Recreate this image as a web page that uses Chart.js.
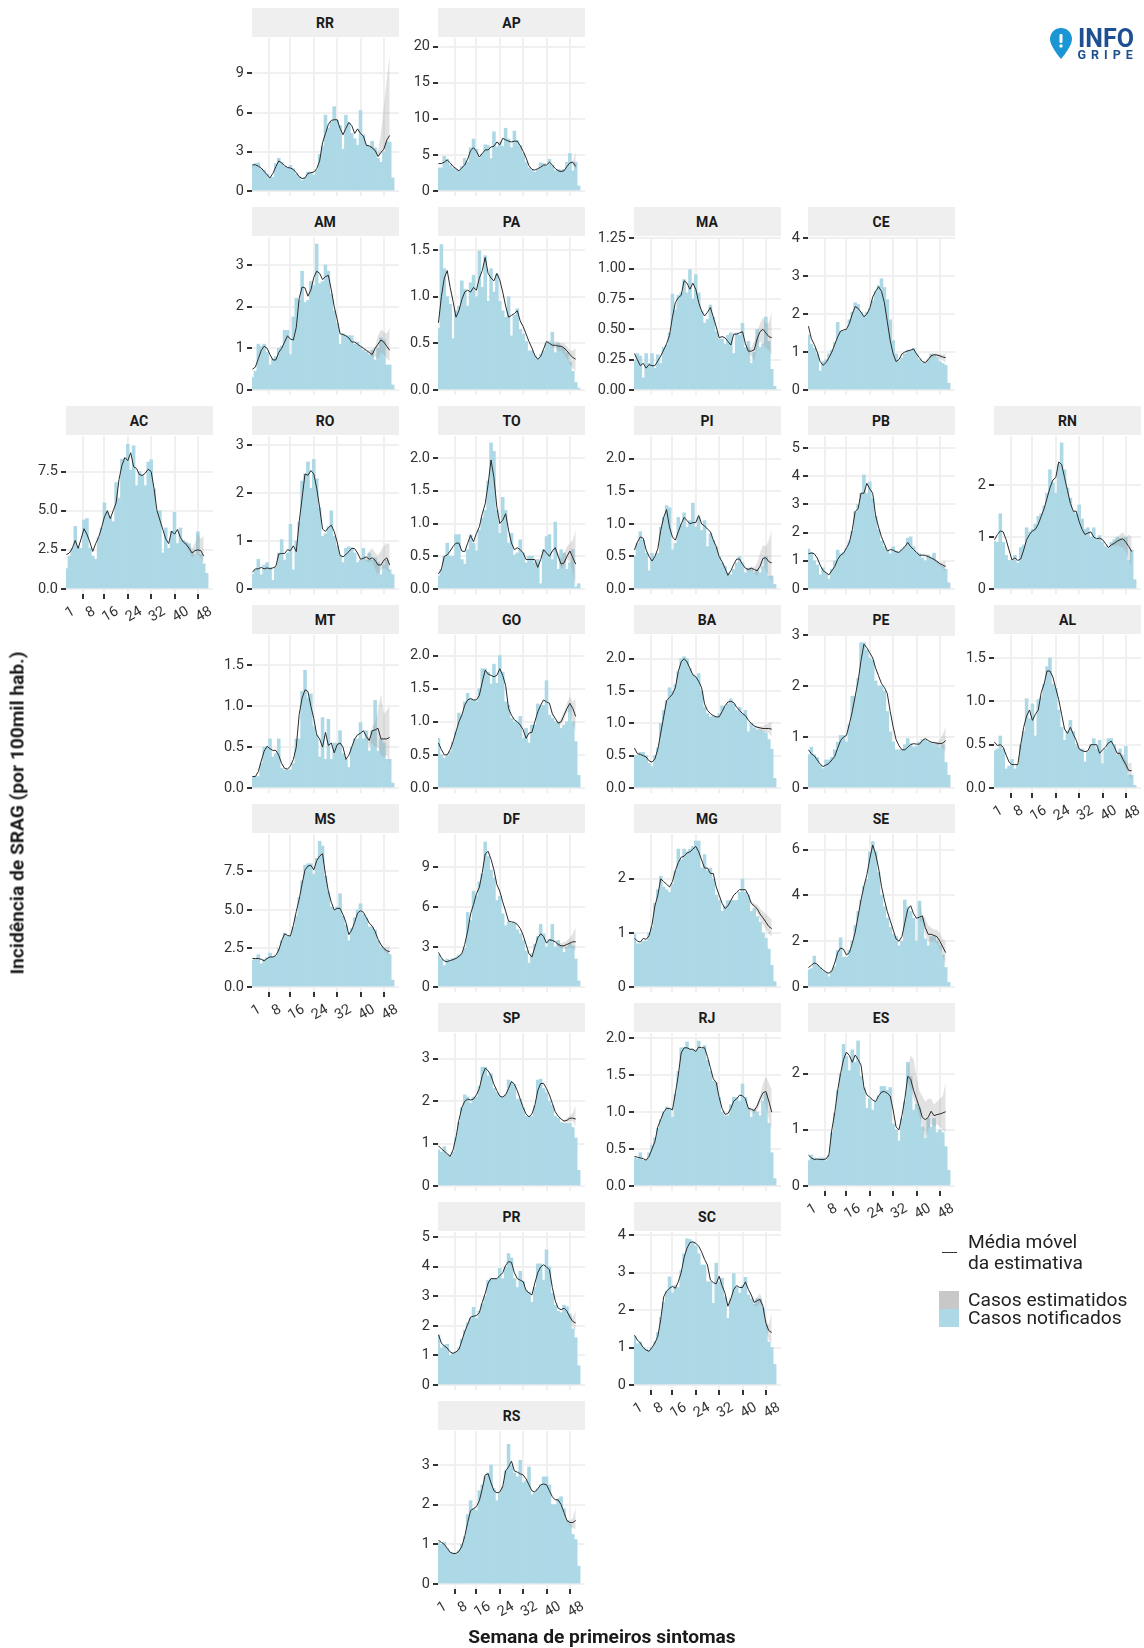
<!DOCTYPE html>
<html lang="pt-BR"><head><meta charset="utf-8"><title>Incidência de SRAG</title>
<script src="https://cdn.jsdelivr.net/npm/chart.js@4"></script>
<style>
html,body{margin:0;padding:0;background:#fff;overflow:hidden}
#page{position:relative;width:1144px;height:1648px;overflow:hidden;font-family:Roboto,sans-serif;color:#1a1a1a;filter:blur(.4px)}
.strip{position:absolute;background:#efefef;width:147px;height:29px;line-height:30px;text-align:center;font-weight:700;font-size:14px;color:#1a1a1a}
canvas{position:absolute}
.t{position:absolute;white-space:nowrap}
.lg{font-size:19.2px;color:#222;line-height:20px}
</style></head><body><div id="page"></div>
<script>
const weeks=[-1,0,1,2,3,4,5,6,7,8,9,10,11,12,13,14,15,16,17,18,19,20,21,22,23,24,25,26,27,28,29,30,31,32,33,34,35,36,37,38,39,40,41,42,43,44,45,46,47];
const xTickValues=[1,8,16,24,32,40,48];

const RR_bars=[2.0,2.1,2.15,1.7,1.6,1.3,1.0,1.05, 2.1,2.5,2.2,1.9,1.8,1.95,1.7,1.3, 1.1,.8,1.0,1.45,1.4,1.2,1.6,2.8, 3.4,5.8,4.8,5.3,6.45,5.4,5.0,3.2, 5.8,5.2,4.4,4.0,3.5,6.15,4.3,3.5, 3.4,3.8,3.3,2.5,2.2,3.0,3.7,3.75, 1.0];
const RR_line=[2.0,2.0,1.9,1.75,1.5,1.25,1.0,1.35, 1.85,2.3,2.15,1.95,1.8,1.75,1.65,1.4, 1.1,.95,1.0,1.35,1.4,1.45,1.7,2.3, 3.7,4.4,5.1,5.4,5.45,5.45,4.8,4.3, 4.8,5.25,5.0,4.4,4.75,4.4,4.2,3.5, 3.45,3.3,3.1,2.65,2.95,3.2,3.9,4.25];
const RR_hi=[4.25,3.6,3.5,3.4,3.2,3.0,4.5,6.5,8.5,10.5];
const RR_lo=[4.15,3.4,3.4,3.2,3.0,2.5,2.8,3.2,3.6,3.9];

const AP_bars=[3.2,3.2,4.8,4.4,3.6,3.2,3.0,2.8, 3.4,4.5,4.0,6.0,7.2,5.8,4.6,5.2, 6.4,6.3,4.5,8.2,6.1,6.8,6.2,8.7, 7.2,6.0,8.3,7.0,6.3,5.2,4.0,3.2, 2.9,2.6,3.0,3.9,3.8,3.4,4.4,3.6, 2.8,3.0,2.9,3.0,4.0,5.2,2.8,4.0, .7];
const AP_line=[3.8,3.8,4.0,4.3,3.9,3.4,3.1,2.8, 3.2,3.6,4.4,5.6,6.0,5.5,4.7,5.2, 5.7,5.7,6.1,6.2,6.8,6.4,7.3,7.1, 6.9,6.8,6.9,6.9,6.3,5.5,4.6,3.5, 3.0,2.9,3.1,3.3,3.6,3.6,4.0,3.6, 3.1,2.8,2.7,2.8,3.4,3.9,4.0,3.4];
const AP_hi=[4.0,3.6,3.1,2.8,2.7,2.9,3.5,4.0,4.2,5.4];
const AP_lo=[4.0,3.6,3.1,2.8,2.7,2.7,3.3,3.8,3.6,3.0];

const AM_bars=[.3,.45,1.1,1.05,1.1,.9,.6,.75, .8,1.0,1.05,1.43,1.43,.85,1.75,2.2, 2.15,2.85,2.1,2.15,2.6,2.5,3.5,2.55, 2.6,3.0,2.85,2.3,1.9,1.6,1.1,1.35, 1.3,1.3,1.3,1.1,1.15,1.05,.95,.9, .85,.95,.72,1.0,1.25,1.2,.6,.6, .12];
const AM_line=[.5,.55,.75,.95,1.05,1.0,.85,.72, .72,.9,1.0,1.15,1.3,1.22,1.2,1.5, 2.2,2.47,2.45,2.25,2.4,2.7,2.85,2.8, 2.65,2.72,2.75,2.4,2.0,1.7,1.35,1.33, 1.3,1.25,1.15,1.15,1.1,1.05,1.0,.95, .9,.85,1.0,1.1,1.2,1.15,1.05,.95];
const AM_hi=[1.02,.97,.95,.98,1.05,1.3,1.45,1.4,1.35,1.5];
const AM_lo=[.98,.92,.87,.8,.8,.75,.9,.85,.75,.7];

const PA_bars=[.66,1.56,1.3,1.0,.92,.55,.85,.9, 1.17,1.08,.9,1.15,1.23,1.0,1.49,1.1, 1.44,.95,1.3,1.05,1.24,.95,.85,.78, 1.0,.58,.8,.87,.65,.6,.52,.42, .42,.37,.33,.38,.42,.5,.52,.62, .4,.5,.47,.45,.4,.3,.2,.08, .02];
const PA_line=[.72,1.0,1.2,1.28,1.1,.95,.78,.85, .97,1.05,1.07,1.05,1.1,1.07,1.2,1.28, 1.42,1.25,1.2,1.17,1.25,1.18,1.05,.9, .78,.8,.82,.85,.74,.68,.6,.52, .45,.37,.33,.36,.44,.52,.5,.48, .48,.47,.47,.45,.42,.38,.35,.33];
const PA_hi=[.5,.5,.52,.52,.5,.5,.47,.42,.42,.45];
const PA_lo=[.5,.46,.45,.42,.42,.38,.33,.28,.23,.2];

const MA_bars=[.24,.3,.28,.1,.3,.22,.3,.18, .29,.22,.35,.37,.47,.79,.66,.78, .8,.91,.8,.99,.75,.95,.8,.65, .55,.58,.7,.6,.48,.42,.42,.38, .45,.47,.3,.47,.45,.55,.35,.4, .22,.31,.5,.35,.38,.6,.4,.17, .03];
const MA_line=[.3,.25,.2,.22,.18,.21,.2,.2, .24,.28,.33,.38,.45,.6,.72,.76, .78,.9,.88,.83,.88,.83,.72,.65, .61,.64,.68,.6,.52,.43,.44,.43, .4,.37,.46,.46,.47,.48,.38,.32, .32,.33,.42,.48,.5,.47,.44,.43];
const MA_hi=[.38,.35,.35,.4,.47,.55,.6,.55,.55,.65];
const MA_lo=[.38,.3,.28,.24,.35,.4,.38,.35,.33,.28];

const CE_bars=[1.45,1.2,1.1,.95,.5,.75,.8,.95, 1.05,1.25,1.78,1.55,1.55,1.6,1.85,2.05, 2.3,2.25,2.05,1.95,2.05,2.15,2.35,2.6, 2.75,2.93,2.7,2.38,1.85,1.3,.95,.75, .85,.95,1.05,1.05,1.1,.95,.8,.72, .7,.8,.95,.9,.85,.75,.7,.65, .18];
const CE_line=[1.68,1.35,1.2,1.0,.75,.65,.72,.85, 1.0,1.2,1.4,1.55,1.58,1.6,1.75,2.0, 2.2,2.15,2.05,1.93,2.0,2.15,2.45,2.6, 2.72,2.6,2.3,1.8,1.3,.95,.75,.8, .95,1.0,1.03,1.05,1.08,.95,.85,.75, .72,.8,.9,.93,.92,.9,.87,.85];
const CE_hi=[.85,.77,.75,.85,.95,.97,.97,.95,.93,.97];
const CE_lo=[.85,.73,.69,.76,.85,.88,.86,.82,.78,.72];

const AC_bars=[1.3,2.1,2.6,4.0,2.7,2.6,4.4,4.5, 2.6,2.1,1.9,3.3,3.9,5.5,4.9,4.6, 4.3,6.8,5.8,8.3,8.3,9.25,7.6,9.15, 6.6,7.5,7.3,6.6,8.1,8.25,6.4,5.0, 5.0,2.3,3.9,2.6,3.7,4.9,2.9,3.9, 3.1,3.0,2.9,2.4,2.2,3.65,2.2,1.6, 1.0];
const AC_line=[2.2,2.3,2.6,3.1,2.6,3.2,3.85,3.5, 3.0,2.4,2.9,3.3,3.9,4.6,5.0,4.5, 5.0,5.5,7.0,7.9,8.4,8.2,8.7,7.8, 7.7,7.3,7.25,7.4,7.65,7.5,6.4,5.0, 4.4,3.8,3.2,2.9,3.7,3.5,3.8,3.3, 3.0,2.85,2.6,2.3,2.45,2.5,2.45,2.1];
const AC_hi=[3.85,3.3,3.1,3.0,2.8,2.6,2.9,3.6,3.2,3.4];
const AC_lo=[3.75,3.3,3.0,2.8,2.4,2.0,2.2,2.2,2.0,1.6];

const RO_bars=[.3,.4,.62,.3,.5,.55,.45,.18, .45,.75,1.03,.6,.75,1.35,.4,1.0, 1.4,2.25,2.4,2.65,2.1,2.7,2.3,1.7, 1.1,1.15,1.3,1.63,1.1,.9,.7,.55, .85,.88,.85,.75,.55,.6,.85,.6, .75,.6,.65,.55,.3,.5,.6,.4, .3];
const RO_line=[.35,.42,.42,.45,.42,.44,.42,.44, .47,.73,.74,.74,.82,.8,.9,.78, 1.4,1.9,2.4,2.37,2.47,2.4,2.1,1.7, 1.25,1.2,1.28,1.33,1.2,.98,.7,.67, .72,.78,.85,.84,.75,.62,.64,.67, .62,.65,.6,.5,.5,.6,.65,.5];
const RO_hi=[.7,.65,.8,.85,.75,.7,.8,.9,.95,.95];
const RO_lo=[.62,.58,.55,.6,.4,.3,.4,.45,.4,.35];

const TO_bars=[.2,.3,.5,.7,.5,.5,.83,.83, .45,.38,.6,.83,.7,.58,.9,1.08, 1.2,1.65,2.23,2.1,1.2,.85,1.4,1.2, .7,.85,.52,.55,.75,.55,.4,.5, .5,.4,.45,.08,.6,.8,.83,.45, 1.02,.3,.6,.55,.3,.4,.6,.03, .08];
const TO_line=[.23,.3,.5,.52,.58,.65,.7,.7, .58,.57,.7,.82,.72,.85,.95,1.15, 1.3,1.6,1.97,1.7,1.25,1.0,1.05,1.15, .9,.7,.6,.63,.6,.55,.45,.45, .45,.45,.33,.45,.6,.55,.5,.58, .63,.5,.38,.4,.5,.58,.48,.38];
const TO_hi=[.52,.6,.65,.55,.45,.55,.65,.7,.75,.9];
const TO_lo=[.48,.55,.6,.45,.3,.35,.45,.42,.25,.05];

const PI_bars=[.5,.7,.88,.75,.55,.28,.55,.5, .55,.95,1.1,1.28,1.25,.6,.7,1.1, 1.0,1.17,.95,1.05,1.32,.95,1.1,.9, 1.05,.65,.85,.75,.65,.5,.4,.35, .25,.22,.3,.4,.5,.4,.25,.32, .3,.25,.3,.25,.35,.5,.2,.2, .07];
const PI_line=[.6,.72,.8,.78,.6,.5,.43,.5, .62,.9,1.1,1.22,.95,.8,.75,.88, 1.0,1.1,1.05,1.0,1.02,1.02,1.13,1.0, .97,.92,.88,.75,.65,.5,.42,.32, .21,.28,.38,.46,.46,.38,.32,.3, .32,.3,.28,.35,.47,.48,.42,.4];
const PI_hi=[.32,.32,.35,.33,.4,.55,.68,.65,.75,.9];
const PI_lo=[.28,.27,.28,.24,.2,.3,.38,.28,.2,.12];

const PB_bars=[1.42,1.3,1.0,.85,.5,.75,.55,.35, .7,1.0,1.38,1.25,1.3,1.45,1.7,2.05, 2.75,3.0,3.4,4.05,3.4,3.8,3.2,2.6, 2.1,1.7,1.5,1.35,1.25,1.5,1.35,1.3, 1.4,1.5,1.8,1.85,1.5,1.3,1.25,1.1, 1.0,1.2,1.1,1.27,.95,.85,.8,.7, .22];
const PB_line=[1.25,1.28,1.25,1.1,.85,.65,.58,.5, .65,.8,1.05,1.2,1.27,1.45,1.65,2.1, 2.75,2.85,3.4,3.4,3.75,3.55,3.4,2.6, 2.2,1.85,1.6,1.35,1.4,1.38,1.32,1.3, 1.4,1.5,1.65,1.5,1.4,1.3,1.2,1.2, 1.2,1.15,1.1,1.05,.98,.9,.85,.8];
const PB_hi=[1.22,1.22,1.18,1.18,1.18,1.1,1.0,.95,.95,1.0];
const PB_lo=[1.18,1.18,1.12,1.12,1.12,1.0,.9,.82,.75,.6];

const RN_bars=[.92,.9,1.45,.9,.65,.55,.55,.65, .5,.8,.85,1.18,1.1,1.15,1.25,1.4, 1.45,1.6,1.85,2.3,2.05,1.85,2.4,2.82, 2.3,1.95,1.75,1.5,1.45,1.62,1.35,1.15, 1.18,1.0,1.18,.95,1.03,.9,.82,.78, .9,.95,1.0,.98,.95,1.0,.55,.75, .18];
const RN_line=[.95,1.05,1.12,1.1,.95,.75,.56,.6, .55,.58,.75,.95,1.05,1.12,1.15,1.25, 1.4,1.55,1.75,1.95,2.1,2.15,2.45,2.4, 2.15,1.9,1.65,1.5,1.5,1.3,1.15,1.05, 1.08,1.1,1.0,.97,.98,.95,.88,.8, .85,.88,.92,.95,.97,.9,.82,.72];
const RN_hi=[.9,.8,.87,.92,1.0,1.05,1.1,1.0,1.05,1.0];
const RN_lo=[.86,.78,.82,.83,.84,.82,.8,.72,.55,.45];

const MT_bars=[.14,.14,.14,.3,.5,.5,.6,.38, .42,.6,.24,.22,.22,.22,.3,.6, .6,1.18,1.44,1.1,1.15,.75,.65,.38, .86,.35,.84,.35,.55,.55,.7,.42, .35,.25,.5,.6,.6,.8,.6,.7, .45,.7,1.07,.45,.6,.55,.35,.35, .06];
const MT_line=[.14,.14,.2,.33,.45,.51,.48,.46, .46,.4,.3,.24,.23,.27,.35,.5, .9,1.1,1.2,1.18,1.0,.85,.65,.6, .5,.68,.52,.55,.43,.53,.55,.5, .35,.4,.5,.6,.65,.67,.7,.63, .58,.7,.71,.73,.6,.6,.6,.62];
const MT_hi=[.72,.65,.62,.75,.8,.95,1.15,.9,.95,1.0];
const MT_lo=[.68,.6,.5,.55,.5,.5,.4,.38,.4,.3];

const GO_bars=[.75,.5,.45,.48,.55,.7,.85,1.13, 1.1,1.3,1.43,1.35,1.33,1.3,1.5,1.8, 1.8,1.75,1.57,1.87,1.58,2.0,1.75,1.3, 1.25,1.05,1.0,1.0,1.08,.75,.9,.68, .95,.95,1.27,1.25,1.25,1.62,1.1,1.05, 1.0,.98,.9,.95,1.0,1.25,1.0,.7, .19];
const GO_line=[.68,.58,.5,.5,.58,.7,.85,1.0, 1.1,1.25,1.33,1.35,1.33,1.33,1.4,1.6, 1.78,1.72,1.7,1.68,1.7,1.8,1.7,1.55, 1.2,1.1,1.03,1.0,.95,.88,.75,.83, .84,1.0,1.15,1.25,1.33,1.3,1.28,1.12, 1.05,.98,1.0,1.1,1.2,1.28,1.2,1.08];
const GO_hi=[1.3,1.14,1.06,1.0,1.05,1.15,1.28,1.38,1.3,1.35];
const GO_lo=[1.26,1.1,1.03,.96,.95,1.03,1.15,1.15,.98,.85];

const BA_bars=[.5,.5,.55,.55,.5,.38,.33,.5, .62,1.0,1.2,1.35,1.55,1.5,1.6,1.8, 2.0,2.03,2.0,1.85,1.75,1.72,1.77,1.5, 1.25,1.15,1.1,1.12,1.1,1.15,1.27,1.25, 1.3,1.38,1.3,1.2,1.25,1.15,1.2,.87, 1.0,.93,.9,.9,.88,.85,.75,.6, .15];
const BA_line=[.62,.53,.52,.5,.48,.42,.4,.45, .6,.85,1.1,1.35,1.4,1.45,1.55,1.8, 1.95,2.0,1.95,1.85,1.75,1.72,1.65,1.55, 1.3,1.2,1.15,1.12,1.1,1.1,1.18,1.27, 1.33,1.34,1.32,1.25,1.2,1.15,1.12,1.05, 1.0,.96,.94,.93,.92,.92,.92,.91];
const BA_hi=[1.12,1.05,1.01,.97,.96,.95,.96,.98,1.0,1.03];
const BA_lo=[1.12,1.05,.99,.94,.92,.89,.88,.87,.85,.78];

const PE_bars=[.65,.8,.65,.6,.45,.38,.55,.55, .6,.75,.9,1.03,1.03,.9,1.25,1.8, 1.8,2.15,2.85,2.85,2.7,2.55,2.5,2.1, 2.0,2.0,1.9,1.5,1.1,.9,.75,.75, .75,.85,.97,.87,.8,.82,.9,.95, .95,.9,.88,.85,.88,.8,.85,.5, .25];
const PE_line=[.75,.67,.63,.55,.47,.42,.45,.48, .55,.62,.78,.93,1.0,1.03,1.25,1.5, 1.8,2.1,2.5,2.82,2.75,2.65,2.55,2.35, 2.2,2.05,1.97,1.85,1.5,1.2,.95,.83, .75,.75,.8,.85,.87,.86,.86,.93, .97,.93,.9,.89,.88,.87,.88,.93];
const PE_hi=[.86,.93,.97,.93,.9,.89,.89,.95,1.05,1.2];
const PE_lo=[.86,.93,.97,.93,.89,.86,.86,.82,.78,.7];

const AL_bars=[.43,.45,.6,.45,.22,.25,.33,.22, .27,.5,.65,1.03,.8,.97,.6,1.02, 1.05,1.2,1.4,1.5,1.2,1.15,.9,.7, .55,.65,.78,.65,.5,.45,.45,.3, .42,.5,.57,.45,.55,.28,.45,.57, .57,.5,.38,.45,.38,.48,.15,.15, .03];
const AL_line=[.53,.49,.5,.47,.38,.3,.27,.27, .27,.5,.7,.83,.9,.78,.85,.9, 1.1,1.2,1.35,1.35,1.28,1.15,1.02,.85, .68,.63,.7,.62,.55,.45,.43,.42, .43,.5,.5,.5,.4,.44,.47,.52, .54,.48,.4,.4,.33,.27,.2,.2];
const AL_hi=[.47,.52,.54,.48,.42,.42,.36,.32,.28,.3];
const AL_lo=[.47,.52,.54,.48,.39,.37,.29,.22,.14,.1];

const MS_bars=[1.75,1.8,2.1,1.5,1.8,1.9,2.2,1.95, 2.0,2.5,3.0,3.5,3.3,3.25,3.9,4.6, 5.8,6.9,7.9,8.0,8.0,7.3,8.35,9.45, 9.15,7.2,6.2,5.2,5.0,5.2,6.05,4.6, 4.0,3.0,3.8,4.5,5.0,5.4,4.7,4.5, 3.9,3.9,3.7,3.0,2.6,2.5,2.3,2.1, .45];
const MS_line=[1.85,1.85,1.85,1.8,1.7,1.85,1.95,1.95, 2.05,2.4,3.0,3.45,3.35,3.3,4.0,4.9, 5.7,6.7,7.6,7.85,7.9,7.6,8.2,8.5, 8.65,7.3,6.2,5.5,5.0,5.1,5.1,4.7, 4.2,3.4,3.7,4.2,4.8,4.95,4.85,4.5, 4.15,3.95,3.6,3.1,2.75,2.5,2.35,2.3];
const MS_hi=[4.85,4.5,4.15,3.95,3.6,3.1,2.8,2.6,2.6,2.7];
const MS_lo=[4.85,4.5,4.15,3.95,3.6,3.1,2.7,2.35,2.15,2.0];

const DF_bars=[2.4,2.1,1.6,2.1,2.0,2.15,2.2,2.4, 2.5,2.9,5.6,5.0,7.2,6.8,7.9,8.5, 10.9,9.8,8.8,8.2,6.5,6.8,5.5,4.6, 4.9,4.8,4.8,4.3,4.0,3.5,2.7,1.8, 2.5,3.2,3.8,4.7,4.0,3.0,3.6,4.7, 3.0,3.5,3.1,2.6,3.0,3.3,3.1,2.1, .45];
const DF_line=[2.6,2.2,1.95,1.9,2.0,2.05,2.15,2.3, 2.5,3.2,4.2,5.5,6.2,7.0,7.5,8.6, 10.0,10.2,9.6,8.8,7.7,7.2,6.4,5.7, 4.95,4.9,4.85,4.7,4.4,3.9,3.2,2.5, 2.25,3.0,3.7,4.0,3.8,3.3,3.55,3.5, 3.4,3.2,3.1,3.1,3.2,3.3,3.4,3.4];
const DF_hi=[3.6,3.55,3.5,3.35,3.3,3.35,3.5,3.7,4.0,4.5];
const DF_lo=[3.5,3.45,3.3,3.05,2.9,2.85,2.9,2.95,2.9,2.7];

const MG_bars=[.98,.8,.8,.85,.85,1.0,1.1,1.55, 1.8,2.05,1.85,1.8,1.75,1.9,2.15,2.55, 2.35,2.55,2.5,2.55,2.6,2.7,2.7,2.2, 2.45,2.15,2.2,2.0,1.7,1.6,1.4,1.5, 1.6,1.6,1.6,1.6,1.75,2.0,1.75,1.7, 1.4,1.45,1.3,1.2,1.0,.9,.7,.4, .1];
const MG_line=[.9,.85,.83,.9,.88,.95,1.15,1.5, 1.7,2.0,1.95,1.9,1.85,1.95,2.15,2.3, 2.4,2.42,2.48,2.5,2.55,2.6,2.5,2.35, 2.2,2.2,2.1,2.1,1.85,1.7,1.55,1.45, 1.5,1.6,1.7,1.75,1.8,1.8,1.8,1.7, 1.55,1.5,1.45,1.35,1.28,1.2,1.12,1.08];
const MG_hi=[1.8,1.7,1.58,1.55,1.52,1.45,1.4,1.35,1.3,1.25];
const MG_lo=[1.8,1.7,1.52,1.45,1.38,1.25,1.15,1.07,.98,.92];

const SE_bars=[.75,.8,1.35,.95,.85,.7,.6,.45, .7,.9,1.6,2.15,1.3,1.3,1.6,2.0, 2.7,3.3,3.8,4.4,4.7,5.9,6.35,5.9, 5.0,4.0,3.5,3.0,2.6,2.3,2.2,1.8, 2.0,3.8,3.5,3.3,3.0,2.0,3.75,3.0, 2.1,1.8,2.2,2.2,2.0,1.8,1.4,.85, .2];
const SE_line=[.85,.95,1.05,1.0,.85,.75,.65,.6, .7,1.05,1.5,1.7,1.65,1.4,1.5,1.9, 2.4,3.1,3.8,4.4,4.9,5.6,6.2,5.8, 5.2,4.4,3.8,3.3,2.9,2.5,2.1,2.0, 2.2,2.8,3.4,3.55,3.2,3.0,3.05,3.1, 2.6,2.3,2.3,2.25,2.2,2.0,1.75,1.5];
const SE_hi=[3.75,3.2,3.0,2.7,2.6,2.5,2.5,2.35,2.1,2.0];
const SE_lo=[2.8,2.9,2.3,2.0,2.0,2.0,1.9,1.65,1.35,.95];

const SP_bars=[.85,.8,.93,.75,.7,.8,1.15,1.5, 1.85,2.15,2.1,1.95,2.1,2.1,2.35,2.8, 2.8,2.6,2.65,2.3,2.2,2.1,2.1,2.15, 2.5,2.45,2.4,2.05,2.05,1.85,1.65,1.65, 1.65,1.9,2.5,2.52,2.3,2.2,2.0,1.9, 1.65,1.6,1.5,1.48,1.48,1.48,1.38,1.13, .37];
const SP_line=[.95,.88,.82,.76,.7,.85,1.15,1.55, 1.85,2.0,2.05,2.03,2.05,2.15,2.3,2.6, 2.78,2.72,2.6,2.4,2.25,2.12,2.1,2.15, 2.3,2.47,2.4,2.25,2.05,1.85,1.7,1.63, 1.7,1.9,2.25,2.42,2.42,2.3,2.15,1.95, 1.75,1.65,1.58,1.53,1.55,1.6,1.6,1.58];
const SP_hi=[2.15,1.95,1.75,1.65,1.58,1.55,1.6,1.66,1.72,1.9];
const SP_lo=[2.15,1.95,1.75,1.65,1.58,1.51,1.5,1.53,1.52,1.4];

const RJ_bars=[.38,.37,.45,.35,.35,.45,.55,.65, .78,.9,1.0,1.07,1.05,.93,1.25,1.55, 1.87,1.87,1.95,1.85,1.85,1.83,1.96,1.85, 1.9,1.7,1.55,1.42,1.4,1.2,1.0,.95, .95,1.1,1.2,1.2,1.15,1.38,1.2,1.05, .93,1.03,1.0,.95,1.15,1.25,.85,.45, .1];
const RJ_line=[.4,.39,.38,.37,.35,.4,.5,.6, .8,.9,1.0,1.05,1.05,1.03,1.25,1.5, 1.8,1.87,1.87,1.85,1.85,1.82,1.88,1.87, 1.87,1.75,1.6,1.45,1.4,1.2,1.05,.97, .98,1.05,1.15,1.18,1.23,1.22,1.18,1.05, 1.04,1.02,1.08,1.18,1.26,1.28,1.15,1.0];
const RJ_hi=[1.18,1.07,1.05,1.05,1.12,1.22,1.38,1.48,1.4,1.3];
const RJ_lo=[1.18,1.03,1.01,.98,1.02,1.12,1.18,1.1,.9,.75];

const ES_bars=[.45,.55,.5,.48,.5,.5,.45,.55, .95,1.3,1.7,2.0,2.52,2.3,2.05,2.42, 2.2,2.58,1.95,1.75,1.38,1.55,1.35,1.5, 1.6,1.77,1.77,1.7,1.75,1.1,1.0,.8, 1.2,1.5,2.2,1.95,1.35,1.45,1.4,1.05, .85,1.2,1.05,1.2,.95,1.0,.95,.7, .28];
const ES_line=[.55,.5,.47,.48,.47,.47,.48,.55, 1.0,1.3,1.7,2.0,2.25,2.38,2.32,2.2, 2.33,2.25,2.15,1.75,1.62,1.58,1.53,1.5, 1.6,1.67,1.68,1.65,1.6,1.35,1.05,1.0, 1.25,1.55,1.95,1.9,1.7,1.55,1.4,1.22, 1.18,1.22,1.33,1.25,1.27,1.28,1.3,1.32];
const ES_hi=[2.1,2.32,2.25,1.95,1.7,1.6,1.5,1.55,1.55,1.45,1.5,1.55,1.6,1.85];
const ES_lo=[1.85,1.75,1.55,1.4,1.25,1.05,.85,1.0,1.1,1.05,1.1,1.05,1.0,.95];

const PR_bars=[1.7,1.25,1.35,1.38,1.0,1.08,1.12,1.25, 1.55,1.85,2.1,2.25,2.63,2.25,2.5,2.75, 3.0,3.55,3.6,3.6,3.6,3.95,3.6,4.0, 4.45,4.3,3.6,3.3,3.85,3.5,3.2,3.15, 2.8,3.3,4.1,4.1,3.55,4.58,4.0,3.1, 2.7,2.5,2.45,2.7,2.65,2.4,1.9,1.6, .65];
const PR_line=[1.7,1.42,1.32,1.25,1.12,1.07,1.12,1.2, 1.5,1.8,2.05,2.3,2.33,2.35,2.45,2.8, 3.1,3.45,3.6,3.6,3.6,3.7,3.8,4.05, 4.18,4.15,3.8,3.6,3.55,3.5,3.2,3.12, 3.05,3.45,3.8,4.0,4.07,4.0,3.9,3.3, 2.85,2.6,2.55,2.6,2.5,2.3,2.15,2.1];
const PR_hi=[3.9,3.3,2.85,2.6,2.55,2.6,2.5,2.35,2.3,2.5];
const PR_lo=[3.9,3.3,2.85,2.6,2.55,2.6,2.5,2.25,2.0,1.85];

const SC_bars=[1.3,1.1,1.15,1.0,.95,.9,1.0,1.15, 1.4,1.8,2.2,2.5,2.88,2.45,2.65,2.6, 3.05,3.5,3.9,3.88,3.8,3.7,3.5,3.2, 3.2,2.75,2.75,2.18,3.25,2.75,2.85,2.35, 1.78,2.3,2.97,2.6,2.45,2.65,2.87,2.4, 2.3,2.15,2.3,2.3,2.05,1.6,1.15,1.0, .55];
const SC_line=[1.33,1.2,1.12,1.0,.93,.9,1.0,1.12, 1.3,1.75,2.35,2.5,2.58,2.63,2.58,2.75, 3.0,3.4,3.65,3.8,3.82,3.78,3.7,3.55, 3.35,3.2,2.8,2.73,2.7,2.9,2.65,2.45, 2.1,2.3,2.55,2.65,2.6,2.6,2.75,2.55, 2.4,2.2,2.25,2.28,2.1,1.65,1.45,1.4];
const SC_hi=[2.75,2.55,2.42,2.25,2.35,2.45,2.2,1.75,1.6,1.95];
const SC_lo=[2.75,2.55,2.38,2.1,2.1,2.2,2.0,1.5,1.2,1.15];

const RS_bars=[1.05,1.0,1.05,.9,.8,.78,.75,.85, 1.0,1.2,1.75,2.1,1.9,1.85,2.35,2.5, 2.7,2.8,3.0,2.4,2.1,2.3,2.45,2.85, 3.52,3.0,2.8,2.7,3.12,2.55,2.6,2.95, 2.25,2.3,2.4,2.5,2.7,2.7,2.5,2.0, 2.0,2.15,2.2,1.9,1.6,1.5,1.25,1.12, .45];
const RS_line=[1.1,1.05,1.0,.9,.8,.77,.77,.82, .95,1.2,1.55,1.85,1.9,1.95,2.1,2.4, 2.75,2.78,2.55,2.35,2.3,2.32,2.45,2.85, 2.95,3.1,2.85,2.82,2.78,2.75,2.65,2.5, 2.35,2.32,2.4,2.5,2.52,2.5,2.35,2.2, 2.12,2.12,2.0,1.8,1.6,1.55,1.55,1.6];
const RS_hi=[2.35,2.2,2.12,2.12,2.0,1.8,1.62,1.6,1.65,1.95];
const RS_lo=[2.35,2.2,2.12,2.12,2.0,1.8,1.55,1.45,1.4,1.4];

const seriesByState={
 RR:[RR_bars,RR_line,RR_hi,RR_lo],AP:[AP_bars,AP_line,AP_hi,AP_lo],AM:[AM_bars,AM_line,AM_hi,AM_lo],PA:[PA_bars,PA_line,PA_hi,PA_lo],
 MA:[MA_bars,MA_line,MA_hi,MA_lo],CE:[CE_bars,CE_line,CE_hi,CE_lo],AC:[AC_bars,AC_line,AC_hi,AC_lo],RO:[RO_bars,RO_line,RO_hi,RO_lo],
 TO:[TO_bars,TO_line,TO_hi,TO_lo],PI:[PI_bars,PI_line,PI_hi,PI_lo],PB:[PB_bars,PB_line,PB_hi,PB_lo],RN:[RN_bars,RN_line,RN_hi,RN_lo],
 MT:[MT_bars,MT_line,MT_hi,MT_lo],GO:[GO_bars,GO_line,GO_hi,GO_lo],BA:[BA_bars,BA_line,BA_hi,BA_lo],PE:[PE_bars,PE_line,PE_hi,PE_lo],
 AL:[AL_bars,AL_line,AL_hi,AL_lo],MS:[MS_bars,MS_line,MS_hi,MS_lo],DF:[DF_bars,DF_line,DF_hi,DF_lo],MG:[MG_bars,MG_line,MG_hi,MG_lo],
 SE:[SE_bars,SE_line,SE_hi,SE_lo],SP:[SP_bars,SP_line,SP_hi,SP_lo],RJ:[RJ_bars,RJ_line,RJ_hi,RJ_lo],ES:[ES_bars,ES_line,ES_hi,ES_lo],
 PR:[PR_bars,PR_line,PR_hi,PR_lo],SC:[SC_bars,SC_line,SC_hi,SC_lo],RS:[RS_bars,RS_line,RS_hi,RS_lo]};

// state, column, row, y-axis top, y ticks, decimals, shows week labels
const panels=[
 ['RR',1,0,11.7,[0,3,6,9],0,0],['AP',2,0,21.2,[0,5,10,15,20],0,0],
 ['AM',1,1,3.67,[0,1,2,3],0,0],['PA',2,1,1.64,[0,.5,1,1.5],1,0],['MA',3,1,1.26,[0,.25,.5,.75,1,1.25],2,0],['CE',4,1,4.03,[0,1,2,3,4],0,0],
 ['AC',0,2,9.77,[0,2.5,5,7.5],1,1],['RO',1,2,3.19,[0,1,2,3],0,0],['TO',2,2,2.336,[0,.5,1,1.5,2],1,0],['PI',3,2,2.35,[0,.5,1,1.5,2],1,0],['PB',4,2,5.43,[0,1,2,3,4,5],0,0],['RN',5,2,2.95,[0,1,2],0,0],
 ['MT',1,3,1.87,[0,.5,1,1.5],1,0],['GO',2,3,2.31,[0,.5,1,1.5,2],1,0],['BA',3,3,2.366,[0,.5,1,1.5,2],1,0],['PE',4,3,3.0,[0,1,2,3],0,0],['AL',5,3,1.765,[0,.5,1,1.5],1,1],
 ['MS',1,4,9.93,[0,2.5,5,7.5],1,1],['DF',2,4,11.5,[0,3,6,9],0,0],['MG',3,4,2.83,[0,1,2],0,0],['SE',4,4,6.68,[0,2,4,6],0,0],
 ['SP',2,5,3.61,[0,1,2,3],0,0],['RJ',3,5,2.07,[0,.5,1,1.5,2],1,0],['ES',4,5,2.72,[0,1,2],0,1],
 ['PR',2,6,5.18,[0,1,2,3,4,5],0,0],['SC',3,6,4.08,[0,1,2,3,4],0,1],
 ['RS',2,7,3.857,[0,1,2,3],0,1]];
const colLeft=[65.5,251.5,438,633.5,807.5,994];
const rowTop=[8,207,406,605,804,1003,1202,1401];
const page=document.getElementById('page');
const PW=147,STRIP=29,PH=158,ZERO=153,LEFT=50,BOTTOM=50,RIGHT=14,TOPPAD=12,DROP=1;
const pts=(xs,ys)=>ys.map((y,i)=>({x:xs[i],y}));

function addText(txt,css,cls){const d=document.createElement('div');d.className='t '+(cls||'');d.textContent=txt;d.style.cssText=css;page.appendChild(d);return d;}

panels.forEach(([st,col,row,yTop,yTicks,dec,showX])=>{
 const left=colLeft[col],top=rowTop[row];
 const s=document.createElement('div');s.className='strip';s.style.left=left+'px';s.style.top=top+'px';s.textContent=st;page.appendChild(s);
 const c=document.createElement('canvas');c.width=LEFT+PW+RIGHT;c.height=TOPPAD+PH+BOTTOM;
 c.style.left=(left-LEFT)+'px';c.style.top=(top+STRIP+DROP-TOPPAD)+'px';c.style.width=c.width+'px';c.style.height=c.height+'px';page.appendChild(c);
 const [bars,line,hi,lo]=seriesByState[st];
 const rw=weeks.slice(48-hi.length,48);
 const perPx=yTop/ZERO;
 new Chart(c,{type:'bar',data:{datasets:[
   {type:'bar',data:pts(weeks,bars),backgroundColor:'#add8e6',borderWidth:0,barPercentage:1,categoryPercentage:1,order:3},
   {type:'line',data:pts(rw,hi),borderWidth:0,pointRadius:0,fill:'+1',backgroundColor:'rgba(150,150,150,.28)',order:2},
   {type:'line',data:pts(rw,lo),borderWidth:0,pointRadius:0,fill:false,order:2},
   {type:'line',data:pts(weeks,line),borderColor:'#2b2b2b',borderWidth:1,pointRadius:0,tension:0,fill:false,order:1}
 ]},options:{responsive:false,animation:false,events:[],
  layout:{padding:{left:0,top:TOPPAD,right:RIGHT,bottom:0}},
  plugins:{legend:{display:false},tooltip:{enabled:false},title:{display:false}},
  scales:{
   x:{type:'linear',min:-1.16,max:49.18,offset:false,
    afterBuildTicks:a=>{a.ticks=xTickValues.map(v=>({value:v}));},
    afterFit:a=>{a.height=BOTTOM;a.paddingLeft=a.paddingRight=a.paddingTop=a.paddingBottom=0;},
    grid:{color:'#f0f0f0',lineWidth:2,drawTicks:!!showX,tickLength:5,tickColor:'#333',tickWidth:2},
    border:{display:false},
    ticks:{display:!!showX,autoSkip:false,minRotation:30,maxRotation:30,padding:4,labelOffset:1.5,color:'#333',font:{family:'Roboto',size:14.5},callback:v=>String(v)}},
   y:{type:'linear',min:-5*perPx,max:yTop,
    afterBuildTicks:a=>{a.ticks=yTicks.map(v=>({value:v}));},
    afterFit:a=>{a.width=LEFT;a.paddingLeft=a.paddingRight=a.paddingTop=a.paddingBottom=0;},
    grid:{color:'#f0f0f0',lineWidth:2,tickLength:5,tickColor:'#333',tickWidth:2},
    border:{display:false},
    ticks:{autoSkip:false,padding:3,color:'#333',font:{family:'Roboto',size:14.5},callback:v=>Number(v).toFixed(dec)}}
  }}});
});

addText('Semana de primeiros sintomas','left:602px;top:1636px;transform:translate(-50%,-50%);font-weight:700;font-size:19.2px;color:#1a1a1a');
addText('Incidência de SRAG (por 100mil hab.)','left:17px;top:813px;transform:translate(-50%,-50%) rotate(-90deg);font-weight:700;font-size:19.2px;color:#1a1a1a');

function box(css){const d=document.createElement('div');d.style.cssText='position:absolute;'+css;page.appendChild(d);}
box('left:942px;top:1251.5px;width:15px;height:1px;background:#333');
box('left:939px;top:1291px;width:20px;height:18px;background:#c8c8c8');
box('left:939px;top:1309px;width:20px;height:18px;background:#add8e6');
addText('Média móvel','left:968px;top:1232px','lg');
addText('da estimativa','left:968px;top:1253px','lg');
addText('Casos estimatidos','left:968px;top:1289.5px','lg');
addText('Casos notificados','left:968px;top:1307.5px','lg');

const logo=document.createElement('div');logo.style.cssText='position:absolute;left:1050px;top:28px;width:22px;height:31px';
logo.innerHTML='<svg width="22" height="31" viewBox="0 0 22 31"><path d="M11 0C4.9 0 0 4.9 0 11c0 7.5 11 20 11 20s11-12.5 11-20C22 4.9 17.1 0 11 0z" fill="#1a96d4"/><rect x="9.5" y="6" width="3" height="9" rx="1.2" fill="#fff"/><circle cx="11" cy="18" r="1.7" fill="#fff"/></svg>';
page.appendChild(logo);
addText('INFO','left:1078px;top:24px;font-weight:700;font-size:25px;line-height:30px;color:#1d4f91');
addText('GRIPE','left:1077.5px;top:47px;font-weight:700;font-size:12.5px;line-height:15px;letter-spacing:5px;color:#1d4f91');
</script></body></html>
